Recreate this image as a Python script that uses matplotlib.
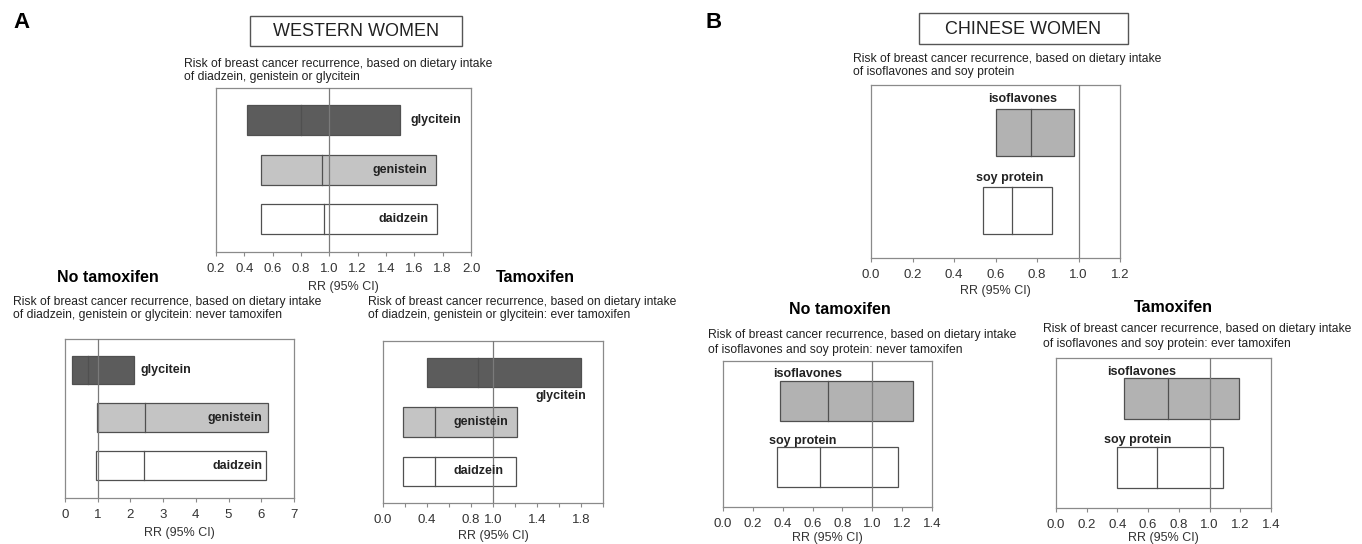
import matplotlib
matplotlib.use("Agg")
import matplotlib.pyplot as plt
from matplotlib.patches import Rectangle

plt.rcParams['font.family'] = ['Liberation Sans', 'DejaVu Sans']

W, H = 1362, 544

# ---- data (RR with 95% CI) ----
a_names = ['daidzein', 'genistein', 'glycitein']
a_all_lo = [0.52, 0.52, 0.42]
a_all_med = [0.96, 0.95, 0.80]
a_all_hi = [1.76, 1.75, 1.50]

a_never_lo = [0.95, 0.97, 0.20]
a_never_med = [2.40, 2.45, 0.70]
a_never_hi = [6.15, 6.20, 2.10]

a_ever_lo = [0.18, 0.18, 0.40]
a_ever_med = [0.47, 0.47, 0.86]
a_ever_hi = [1.21, 1.22, 1.80]

b_names = ['soy protein', 'isoflavones']
b_all_lo = [0.54, 0.60]
b_all_med = [0.68, 0.77]
b_all_hi = [0.87, 0.98]

b_never_lo = [0.36, 0.38]
b_never_med = [0.65, 0.70]
b_never_hi = [1.17, 1.27]

b_ever_lo = [0.40, 0.44]
b_ever_med = [0.66, 0.73]
b_ever_hi = [1.09, 1.19]

a_colors = ['white', '#c4c4c4', '#5c5c5c']
b_colors = ['white', '#b2b2b2']

EDGE = '#505050'
SPINE = '#8a8a8a'
TXT = '#222222'

fig = plt.figure(figsize=(W / 100, H / 100), dpi=100)


def px_axes(x0, y0, x1, y1):
    return fig.add_axes([x0 / W, 1 - y1 / H, (x1 - x0) / W, (y1 - y0) / H])


def ftext(x, y, s, **kw):
    kw.setdefault('color', TXT)
    fig.text(x / W, 1 - y / H, s, **kw)


def draw_panel(ax, names, lo, med, hi, colors, xlim, ticks, ticklabels, ylim, labels, lpad=4):
    for i in range(len(names)):
        ax.barh(i, hi[i] - lo[i], left=lo[i], height=0.6, color=colors[i],
                edgecolor=EDGE, linewidth=0.9, zorder=2)
        ax.plot([med[i], med[i]], [i - 0.3, i + 0.3], color=EDGE, lw=0.9, zorder=3)
        lx, ly, ha, va = labels[i]
        ax.text(lx, i + ly, names[i], ha=ha, va=va, fontsize=9,
                fontweight='bold', color=TXT, zorder=4)
    ax.axvline(1.0, color='#7a7a7a', lw=0.9, zorder=3)
    ax.set_xlim(xlim)
    ax.set_ylim(ylim)
    ax.set_yticks([])
    ax.set_xticks(ticks)
    ax.set_xticklabels(ticklabels)
    ax.tick_params(axis='x', labelsize=9.5, colors=SPINE, labelcolor='#333333',
                   length=3, width=0.8, direction='out', pad=5)
    for sp in ax.spines.values():
        sp.set_color(SPINE)
        sp.set_linewidth(0.9)
    ax.set_xlabel('RR (95% CI)', fontsize=9, color='#333333', labelpad=lpad)


# ---- panel A ----
ftext(22, 23, 'A', fontsize=16, fontweight='bold', ha='center', va='center', color='black')
fig.patches.append(Rectangle((250 / W, 1 - 46 / H), 212 / W, 30 / H, transform=fig.transFigure,
                             fill=False, edgecolor='#555555', lw=1.0))
ftext(356, 31, 'WESTERN WOMEN', fontsize=13, ha='center', va='center')
ftext(184, 58, 'Risk of breast cancer recurrence, based on dietary intake\n'
      'of diadzein, genistein or glycitein', fontsize=8.7, va='top', linespacing=1.15)

ax1 = px_axes(216, 88, 471, 252)
t1 = [0.2, 0.4, 0.6, 0.8, 1.0, 1.2, 1.4, 1.6, 1.8, 2.0]
draw_panel(ax1, a_names, a_all_lo, a_all_med, a_all_hi, a_colors, (0.2, 2.0), t1,
           ['%.1f' % t for t in t1], (-0.66, 2.65),
           [(1.70, 0, 'right', 'center'), (1.69, 0, 'right', 'center'),
            (1.57, 0, 'left', 'center')])

ftext(108, 278, 'No tamoxifen', fontsize=11.5, fontweight='bold', ha='center', va='center', color='black')
ftext(13, 296, 'Risk of breast cancer recurrence, based on dietary intake\n'
      'of diadzein, genistein or glycitein: never tamoxifen', fontsize=8.7, va='top', linespacing=1.15)
ax2 = px_axes(65, 339, 294, 498)
t2 = [0, 1, 2, 3, 4, 5, 6, 7]
draw_panel(ax2, a_names, a_never_lo, a_never_med, a_never_hi, a_colors, (0, 7), t2,
           [str(t) for t in t2], (-0.68, 2.65),
           [(6.05, 0, 'right', 'center'), (6.02, 0, 'right', 'center'),
            (2.32, 0, 'left', 'center')])

ftext(535, 277, 'Tamoxifen', fontsize=11.5, fontweight='bold', ha='center', va='center', color='black')
ftext(368, 296, 'Risk of breast cancer recurrence, based on dietary intake\n'
      'of diadzein, genistein or glycitein: ever tamoxifen', fontsize=8.7, va='top', linespacing=1.15)
ax3 = px_axes(383, 341, 603, 503)
t3 = [0.0, 0.2, 0.4, 0.6, 0.8, 1.0, 1.2, 1.4, 1.6, 1.8, 2.0]
l3 = ['0.0', '', '0.4', '', '0.8', '1.0', '', '1.4', '', '1.8', '']
draw_panel(ax3, a_names, a_ever_lo, a_ever_med, a_ever_hi, a_colors, (0, 2.0), t3, l3,
           (-0.64, 2.64),
           [(0.64, 0, 'left', 'center'), (0.64, 0, 'left', 'center'),
            (1.85, -0.48, 'right', 'center')], lpad=3)

# ---- panel B ----
ftext(714, 23, 'B', fontsize=16, fontweight='bold', ha='center', va='center', color='black')
fig.patches.append(Rectangle((919 / W, 1 - 44 / H), 209 / W, 31 / H, transform=fig.transFigure,
                             fill=False, edgecolor='#555555', lw=1.0))
ftext(1023, 29, 'CHINESE WOMEN', fontsize=13, ha='center', va='center')
ftext(853, 53, 'Risk of breast cancer recurrence, based on dietary intake\n'
      'of isoflavones and soy protein', fontsize=8.7, va='top', linespacing=1.15)

ax4 = px_axes(871, 85, 1120, 258)
t4 = [0.0, 0.2, 0.4, 0.6, 0.8, 1.0, 1.2]
draw_panel(ax4, b_names, b_all_lo, b_all_med, b_all_hi, b_colors, (0, 1.2), t4,
           ['%.1f' % t for t in t4], (-0.6, 1.6),
           [(0.67, 0.42, 'center', 'center'), (0.73, 0.42, 'center', 'center')], lpad=3)

ftext(840, 310, 'No tamoxifen', fontsize=11.5, fontweight='bold', ha='center', va='center', color='black')
ftext(708, 329, 'Risk of breast cancer recurrence, based on dietary intake\n'
      'of isoflavones and soy protein: never tamoxifen', fontsize=8.7, va='top', linespacing=1.3)
ax5 = px_axes(723, 361, 932, 507)
t5 = [0.0, 0.2, 0.4, 0.6, 0.8, 1.0, 1.2, 1.4]
draw_panel(ax5, b_names, b_never_lo, b_never_med, b_never_hi, b_colors, (0, 1.4), t5,
           ['%.1f' % t for t in t5], (-0.6, 1.6),
           [(0.31, 0.40, 'left', 'center'), (0.335, 0.40, 'left', 'center')], lpad=1)

ftext(1173, 308, 'Tamoxifen', fontsize=11.5, fontweight='bold', ha='center', va='center', color='black')
ftext(1043, 323, 'Risk of breast cancer recurrence, based on dietary intake\n'
      'of isoflavones and soy protein: ever tamoxifen', fontsize=8.7, va='top', linespacing=1.3)
ax6 = px_axes(1056, 358, 1271, 508)
draw_panel(ax6, b_names, b_ever_lo, b_ever_med, b_ever_hi, b_colors, (0, 1.4), t5,
           ['%.1f' % t for t in t5], (-0.6, 1.6),
           [(0.31, 0.40, 'left', 'center'), (0.33, 0.40, 'left', 'center')], lpad=1)

fig.savefig('out.png', dpi=100)
